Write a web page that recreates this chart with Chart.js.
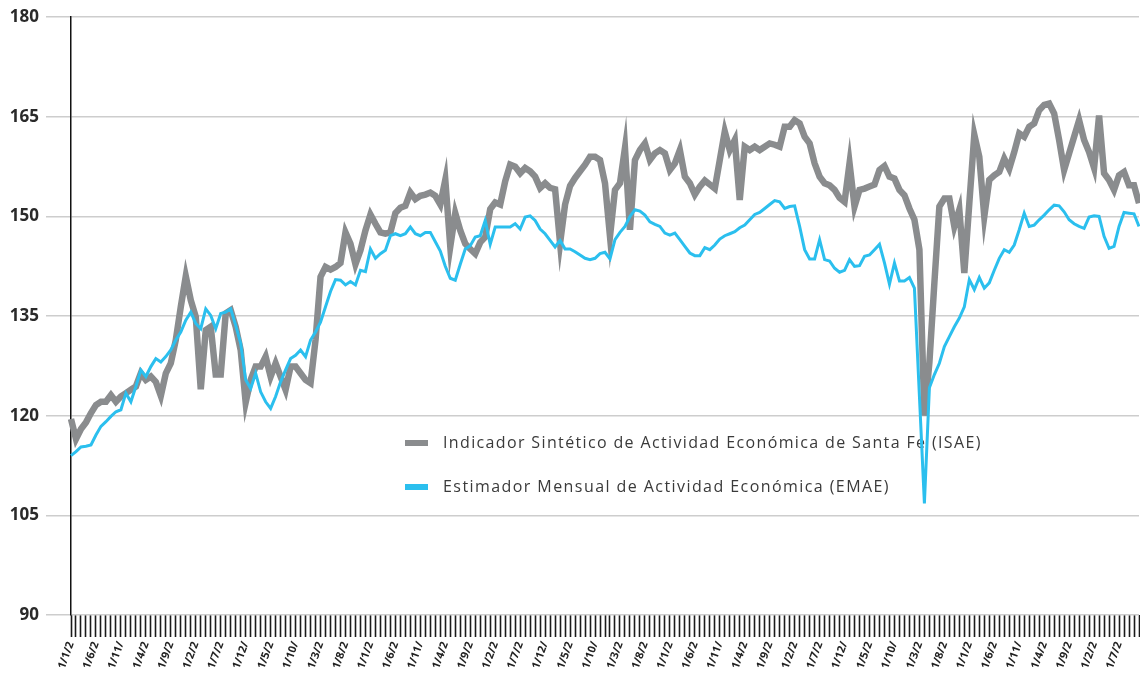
<!DOCTYPE html>
<html>
<head>
<meta charset="utf-8">
<script src="https://cdn.jsdelivr.net/npm/chart.js@4.4.1/dist/chart.umd.min.js"></script>
<style>
  html, body { margin: 0; padding: 0; background: #fff; }
</style>
</head>
<body>
<canvas id="grafico" width="1140" height="679"></canvas>
<script>
// serie mensual desde enero 2006
const anioInicio = 2006;
const cantMeses = 215;

const nombreIsae = "Indicador Sintético de Actividad Económica de Santa Fe (ISAE)";
const nombreEmae = "Estimador Mensual de Actividad Económica (EMAE)";

const isae = [
  119.5,116.5,118,119,120.4,121.6,122.1,122.1,123.1,122.1,
  122.9,123.4,123.9,124.4,126.4,125.4,125.9,125.1,123,126.4,
  127.9,131.4,136.4,141,137.4,134.9,124,132.9,133.4,126.2,
  126.2,135.4,135.9,133.4,129.9,122,125.4,127.4,127.4,128.9,
  125.9,127.9,125.9,123.9,127.4,127.4,126.4,125.4,124.9,131.4,
  140.9,142.4,142,142.4,143,147.6,145.9,142.8,144.9,147.9,
  150.3,148.9,147.6,147.4,147.6,150.5,151.3,151.6,153.6,152.6,
  153.1,153.3,153.6,153.1,151.8,155.5,145.5,150.5,147.9,145.9,
  145.1,144.4,146.1,146.9,151.1,152.1,151.8,155.3,157.8,157.5,
  156.5,157.3,156.8,156,154.3,155,154.3,154.1,146,151.8,
  154.6,155.8,156.8,157.8,159,159,158.5,155,147,154,
  155,160.3,148,158.5,160,161,158.5,159.5,160,159.5,
  157,158,160,156,155,153.3,154.5,155.4,154.8,154.2,
  158.5,162.8,160,161.5,152.5,160.5,160,160.5,160,160.5,
  161,160.8,160.5,163.5,163.5,164.5,164,162,161,158,
  156,155,154.7,154,152.8,152.2,158,151.5,154,154.2,
  154.5,154.8,157,157.6,156,155.7,154,153.2,151.2,149.5,
  145,120,128,140,151.5,152.7,152.7,148.5,151,141.5,
  152,162.3,159,150,155.5,156.2,156.7,158.7,157.2,159.7,
  162.5,162,163.5,164,166,166.8,167,165.5,161.5,157,
  159.5,162,164.5,161.5,159.7,157.3,165.2,156.5,155.5,154,
  156.2,156.7,154.7,154.7,152
];

const emae = [
  114,114.6,115.3,115.4,115.6,117.1,118.4,119.1,119.9,120.6,
  120.9,123.4,122.1,124.4,126.9,125.9,127.4,128.6,128.1,128.9,
  129.9,131.4,132.6,134.4,135.6,133.9,133.1,136.1,135.1,133.1,
  135.4,135.6,136.1,133.6,130.9,125.4,124.1,126.4,123.6,122.1,
  121.1,122.9,125.1,126.9,128.6,129.1,129.9,128.9,131.4,132.6,
  134.1,136.4,138.7,140.5,140.4,139.7,140.2,139.7,141.9,141.7,
  145.1,143.7,144.4,144.9,147.1,147.4,147.1,147.4,148.4,147.4,
  147.1,147.6,147.6,146.2,144.8,142.5,140.7,140.4,142.8,145.1,
  145.6,146.9,147.1,149.4,145.8,148.4,148.4,148.4,148.4,148.9,
  148.1,149.9,150.1,149.4,148.1,147.4,146.4,145.4,146.4,145.1,
  145.1,144.7,144.2,143.7,143.5,143.7,144.4,144.6,143.6,146.5,
  147.6,148.5,150,151,150.8,150.2,149.2,148.8,148.5,147.5,
  147.2,147.5,146.5,145.5,144.5,144.1,144.1,145.3,145,145.7,
  146.6,147.1,147.4,147.7,148.3,148.7,149.5,150.3,150.6,151.2,
  151.8,152.4,152.2,151.2,151.5,151.6,148.5,145,143.6,143.6,
  146.5,143.5,143.3,142.2,141.6,141.9,143.5,142.5,142.6,144,
  144.2,145,145.8,143,139.8,143,140.3,140.3,140.8,139.2,
  123,106.8,124.2,126.2,127.9,130.4,131.9,133.4,134.7,136.4,
  140.5,139,140.8,139.2,140,141.9,143.7,145,144.6,145.7,
  148,150.5,148.5,148.7,149.5,150.2,151,151.7,151.6,150.7,
  149.5,148.9,148.5,148.2,149.9,150.1,150,147,145.2,145.5,
  148.5,150.6,150.5,150.4,148.5
];

const meses = [];
for (let i = 0; i < cantMeses; i++) {
  const y = anioInicio + Math.floor(i / 12);
  meses.push(`1/${(i % 12) + 1}/${y}`);
}

const colorIsae = "#8a8c8e";
const colorEmae = "#2bbfee";

// leyenda dibujada dentro del area, debajo de las lineas
const leyenda = {
  id: "leyenda",
  beforeDatasetsDraw(chart) {
    const ctx = chart.ctx;
    const items = [
      { txt: nombreIsae, color: colorIsae, y: 443, ancho: 539 },
      { txt: nombreEmae, color: colorEmae, y: 487, ancho: 447 }
    ];
    ctx.save();
    ctx.font = '16px "Open Sans"';
    ctx.textBaseline = "middle";
    ctx.textAlign = "left";
    items.forEach(it => {
      ctx.fillStyle = it.color;
      ctx.fillRect(405, it.y - 3, 23, 6);
      ctx.letterSpacing = "0px";
      const w = ctx.measureText(it.txt).width;
      ctx.letterSpacing = ((it.ancho - w) / it.txt.length).toFixed(2) + "px";
      ctx.fillStyle = "#3a3a3a";
      ctx.fillText(it.txt, 443, it.y);
    });
    ctx.restore();
  }
};

new Chart(document.getElementById("grafico"), {
  type: "line",
  data: {
    labels: meses,
    datasets: [
      {
        label: nombreIsae,
        data: isae,
        borderColor: colorIsae,
        borderWidth: 6.5,
        borderJoinStyle: "miter",
        pointRadius: 0,
        tension: 0,
        order: 1
      },
      {
        label: nombreEmae,
        data: emae,
        borderColor: colorEmae,
        borderWidth: 3,
        pointRadius: 0,
        tension: 0,
        order: 0
      }
    ]
  },
  options: {
    responsive: false,
    animation: false,
    layout: { padding: { top: 15, right: 1, left: 0, bottom: 0 } },
    plugins: { legend: { display: false }, tooltip: { enabled: false } },
    scales: {
      x: {
        grid: { drawOnChartArea: false, drawTicks: true, tickLength: 22, tickColor: "#1a1a1a", tickWidth: 1.6 },
        border: { display: false },
        ticks: {
          autoSkip: false,
          minRotation: 70,
          maxRotation: 70,
          padding: 3,
          color: "#222",
          font: { family: "Open Sans", size: 11, weight: "bold" },
          callback: function (v, i) {
            return i % 5 === 0 ? this.getLabelForValue(v).slice(0, 5) : "";
          }
        },
        afterFit(s) {
          s.height = 64;
          s.paddingLeft = 0;
          s.paddingRight = 0;
        }
      },
      y: {
        min: 90,
        max: 180,
        ticks: {
          stepSize: 15,
          padding: 7,
          color: "#2a2a2a",
          font: { family: "Open Sans", size: 17, weight: "bold" }
        },
        grid: { color: "#cdcdcd", lineWidth: 1.5, tickLength: 25, tickColor: "#cdcdcd" },
        border: { display: true, color: "#111", width: 1.5 },
        afterFit(s) { s.width = 71; }
      }
    }
  },
  plugins: [leyenda]
});
</script>
</body>
</html>
